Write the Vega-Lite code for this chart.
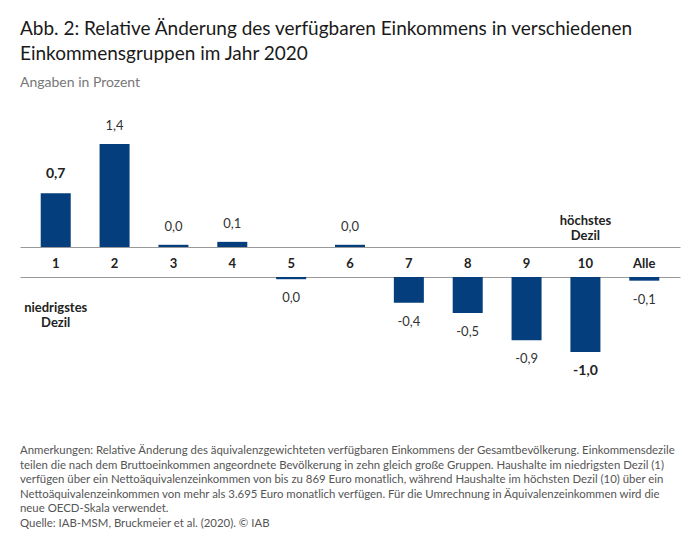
{
  "$schema": "https://vega.github.io/schema/vega-lite/v6.json",
  "padding": {"left": 20, "right": 20, "top": 20, "bottom": 10},
  "background": "white",
  "title": {
    "text": ["Abb. 2: Relative Änderung des verfügbaren Einkommens in verschiedenen", "Einkommensgruppen im Jahr 2020"],
    "subtitle": "Angaben in Prozent",
    "anchor": "start",
    "font": "Lato",
    "fontSize": 19,
    "fontWeight": "normal",
    "color": "#1a1a1a",
    "lineHeight": 25,
    "subtitleFont": "Lato",
    "subtitleFontSize": 14,
    "subtitleColor": "#777777",
    "subtitlePadding": 12,
    "offset": 10
  },
  "data": {
    "values": [
      {"gruppe": "1", "wert": 0.73, "label": "0,7", "hinweis": "niedrigstes\nDezil"},
      {"gruppe": "2", "wert": 1.4, "label": "1,4", "hinweis": ""},
      {"gruppe": "3", "wert": 0.03, "label": "0,0", "hinweis": ""},
      {"gruppe": "4", "wert": 0.07, "label": "0,1", "hinweis": ""},
      {"gruppe": "5", "wert": -0.03, "label": "0,0", "hinweis": ""},
      {"gruppe": "6", "wert": 0.03, "label": "0,0", "hinweis": ""},
      {"gruppe": "7", "wert": -0.35, "label": "-0,4", "hinweis": ""},
      {"gruppe": "8", "wert": -0.49, "label": "-0,5", "hinweis": ""},
      {"gruppe": "9", "wert": -0.86, "label": "-0,9", "hinweis": ""},
      {"gruppe": "10", "wert": -1.02, "label": "-1,0", "hinweis": "höchstes\nDezil"},
      {"gruppe": "Alle", "wert": -0.05, "label": "-0,1", "hinweis": ""}
    ]
  },
  "spacing": 7,
  "vconcat": [
    {
      "width": 660,
      "height": 147,
      "encoding": {
        "x": {
          "field": "gruppe", "type": "ordinal", "sort": null,
          "scale": {"domain": ["1", "2", "3", "4", "5", "6", "7", "8", "9", "10", "Alle"], "paddingInner": 0.49, "paddingOuter": 0.352},
          "axis": {"title": null, "labelAngle": 0, "labelFont": "Lato", "labelFontSize": 13, "labelFontWeight": "bold", "labelColor": "#222222", "labelPadding": 10, "ticks": false, "domainColor": "#999999", "domainWidth": 1}
        },
        "y": {"field": "wert", "type": "quantitative", "scale": {"domain": [0, 2]}, "axis": null}
      },
      "layer": [
        {
          "transform": [{"filter": "datum.wert >= 0"}],
          "mark": {"type": "bar", "color": "#053e7c"}
        },
        {
          "transform": [{"filter": "datum.wert >= 0 && datum.gruppe != '1'"}],
          "mark": {"type": "text", "baseline": "middle", "dy": -18, "font": "Lato", "fontSize": 13, "color": "#333333"},
          "encoding": {"text": {"field": "label"}}
        },
        {
          "transform": [{"filter": "datum.gruppe == '1'"}],
          "mark": {"type": "text", "baseline": "middle", "dy": -19, "font": "Lato", "fontSize": 14, "fontWeight": "bold", "color": "#222222"},
          "encoding": {"text": {"field": "label"}}
        },
        {
          "transform": [{"filter": "datum.gruppe == '10'"}],
          "mark": {"type": "text", "baseline": "middle", "dy": -26, "lineBreak": "\n", "lineHeight": 15, "font": "Lato", "fontSize": 13, "fontWeight": "bold", "color": "#222222"},
          "encoding": {"y": {"datum": 0}, "text": {"field": "hinweis"}}
        }
      ]
    },
    {
      "width": 660,
      "height": 103,
      "title": {
        "text": [
          "Anmerkungen: Relative Änderung des äquivalenzgewichteten verfügbaren Einkommens der Gesamtbevölkerung. Einkommensdezile",
          "teilen die nach dem Bruttoeinkommen angeordnete Bevölkerung in zehn gleich große Gruppen. Haushalte im niedrigsten Dezil (1)",
          "verfügen über ein Nettoäquivalenzeinkommen von bis zu 869 Euro monatlich, während Haushalte im höchsten Dezil (10) über ein",
          "Nettoäquivalenzeinkommen von mehr als 3.695 Euro monatlich verfügen. Für die Umrechnung in Äquivalenzeinkommen wird die",
          "neue OECD-Skala verwendet."
        ],
        "subtitle": "Quelle: IAB-MSM, Bruckmeier et al. (2020). © IAB",
        "orient": "bottom",
        "anchor": "start",
        "font": "Lato",
        "fontSize": 11.4,
        "fontWeight": "normal",
        "color": "#555555",
        "lineHeight": 14.5,
        "subtitleFont": "Lato",
        "subtitleFontSize": 11.4,
        "subtitleColor": "#555555",
        "subtitlePadding": 4,
        "offset": 65
      },
      "encoding": {
        "x": {
          "field": "gruppe", "type": "ordinal", "sort": null,
          "scale": {"domain": ["1", "2", "3", "4", "5", "6", "7", "8", "9", "10", "Alle"], "paddingInner": 0.49, "paddingOuter": 0.352},
          "axis": {"orient": "top", "title": null, "labels": false, "ticks": false, "domainColor": "#999999", "domainWidth": 1}
        },
        "y": {"field": "wert", "type": "quantitative", "scale": {"domain": [-1.4, 0]}, "axis": null}
      },
      "layer": [
        {
          "transform": [{"filter": "datum.wert < 0"}],
          "mark": {"type": "bar", "color": "#053e7c"}
        },
        {
          "transform": [{"filter": "datum.wert < 0 && datum.gruppe != '10'"}],
          "mark": {"type": "text", "baseline": "middle", "dy": 19, "font": "Lato", "fontSize": 13, "color": "#333333"},
          "encoding": {"text": {"field": "label"}}
        },
        {
          "transform": [{"filter": "datum.gruppe == '10'"}],
          "mark": {"type": "text", "baseline": "middle", "dy": 19, "font": "Lato", "fontSize": 14, "fontWeight": "bold", "color": "#222222"},
          "encoding": {"text": {"field": "label"}}
        },
        {
          "transform": [{"filter": "datum.gruppe == '1'"}],
          "mark": {"type": "text", "baseline": "middle", "dy": 31, "lineBreak": "\n", "lineHeight": 15, "font": "Lato", "fontSize": 13, "fontWeight": "bold", "color": "#222222"},
          "encoding": {"y": {"datum": 0}, "text": {"field": "hinweis"}}
        }
      ]
    }
  ],
  "config": {
    "view": {"stroke": null}
  }
}
